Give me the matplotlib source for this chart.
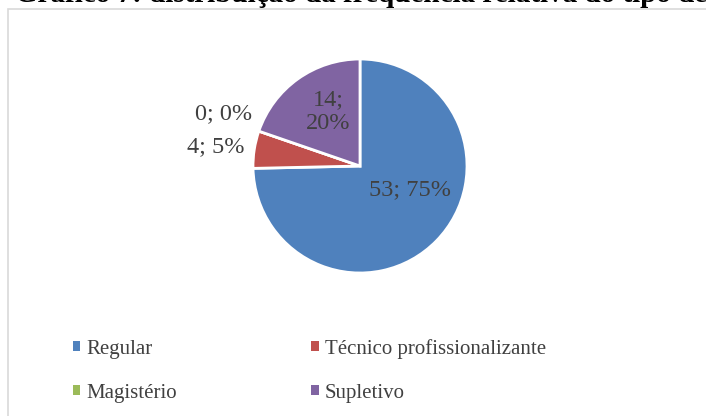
import matplotlib.pyplot as plt
from matplotlib.patches import Patch, Rectangle

# dados do gráfico
categorias = ["Regular", "Técnico profissionalizante", "Magistério", "Supletivo"]
frequencias = [53, 4, 0, 14]
rotulos = ["53; 75%", "4; 5%", "0; 0%", "14;\n20%"]
cores = ["#4F81BD", "#C0504D", "#9BBB59", "#8064A2"]
titulo = "Gráfico 7: distribuição da frequência relativa do tipo de ensino médio"

# posição dos rótulos (em raios, relativo ao centro)
pos_rotulos = [(0.47, -0.22, "center"), (-1.08, 0.18, "right"),
               (-1.01, 0.49, "right"), (-0.30, 0.51, "center")]

W, H = 706, 416
plt.rcParams['font.family'] = ['Liberation Serif', 'DejaVu Serif']
fig = plt.figure(figsize=(W / 100, H / 100), dpi=100)

# moldura do gráfico
fig.patches.append(Rectangle((8 / W, -0.1), 1.2, (H - 9) / H + 0.1,
                             transform=fig.transFigure, fill=False,
                             edgecolor="#D9D9D9", linewidth=1.2))

fig.text(15 / W, 1 - 2.5 / H, titulo, fontsize=21.0, fontweight="bold",
         va="baseline", ha="left", color="black")

cx, cy, r = 360, 166, 107
ax = fig.add_axes([(cx - r) / W, (H - cy - r) / H, 2 * r / W, 2 * r / H])
ax.pie(frequencias, colors=cores, startangle=90, counterclock=False,
       wedgeprops=dict(edgecolor="white", linewidth=2))
ax.set_xlim(-1, 1)
ax.set_ylim(-1, 1)
ax.set_aspect("equal")

for rot, (x, y, ha) in zip(rotulos, pos_rotulos):
    ax.text(x, y, rot, ha=ha, va="center", fontsize=17.5,
            color="#404040", linespacing=1.2)

handles = [Patch(facecolor=c) for c in cores]
ordem = [0, 2, 1, 3]
fig.legend([handles[i] for i in ordem], [categorias[i] for i in ordem],
           ncol=2, loc="upper left", bbox_to_anchor=(54 / W, 1 - 320 / H),
           frameon=False, fontsize=15, labelcolor="#404040",
           handlelength=0.35, handleheight=0.35, handletextpad=0.3,
           columnspacing=6.45, labelspacing=1.2)

fig.savefig("out.png", dpi=100)
